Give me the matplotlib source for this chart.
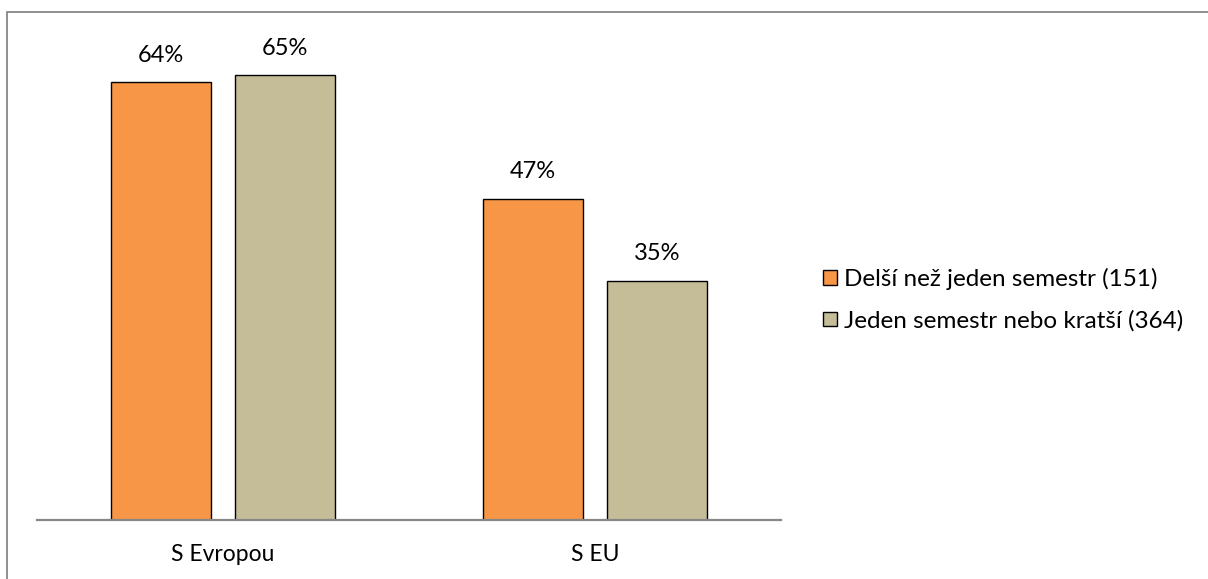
import matplotlib.pyplot as plt
from matplotlib.patches import Rectangle, Patch

categories = ["S Evropou", "S EU"]
series_names = ["Delší než jeden semestr (151)", "Jeden semestr nebo kratší (364)"]
longer = [64, 47]
shorter = [65, 35]
colors = ["#F79646", "#C4BD97"]

plt.rcParams["font.family"] = ["Lato", "DejaVu Sans"]

W, H = 1208, 579
fig = plt.figure(figsize=(W / 100, H / 100), dpi=100)

# outer frame (only left/top edges fall inside the canvas)
fig.patches.append(Rectangle((7 / W, -0.1), 1.2, (H - 12) / H + 0.1, transform=fig.transFigure,
                             fill=False, edgecolor="#878787", linewidth=1.3))

# plot area: baseline at y=520px, 6.84 px per percent
left, right = 37, 781
base = 520
top = base - 70 * 6.84
ax = fig.add_axes([left / W, (H - base) / H, (right - left) / W, (base - top) / H])

x = range(len(categories))
width = 100 / 372
offset = 62 / 372
for vals, name, c, sign in [(longer, series_names[0], colors[0], -1),
                            (shorter, series_names[1], colors[1], 1)]:
    xs = [i + sign * offset for i in x]
    bars = ax.bar(xs, vals, width=width, color=c, edgecolor="black", linewidth=1.0, label=name)
    for b, v in zip(bars, vals):
        ax.text(b.get_x() + b.get_width() / 2, v + 27 / 6.84, f"{v}%", ha="center", va="center",
                fontsize=17)

ax.set_xlim(-0.5, 1.5)
ax.set_ylim(0, 70)
ax.set_yticks([])
ax.set_xticks(list(x))
ax.set_xticklabels(categories, fontsize=16.5)
ax.tick_params(axis="x", length=0, pad=17)
for s in ["top", "right", "left"]:
    ax.spines[s].set_visible(False)
ax.spines["bottom"].set_color("#878787")
ax.spines["bottom"].set_linewidth(1.6)

handles = [Patch(facecolor=c, edgecolor="black", linewidth=1.0) for c in colors]
fig.legend(handles, series_names, loc="center left", bbox_to_anchor=(801 / W, 1 - 300 / H),
           frameon=False, fontsize=17.5, handlelength=0.6, handleheight=0.55,
           handletextpad=0.25, labelspacing=0.82)

fig.savefig("out.png", dpi=100)
